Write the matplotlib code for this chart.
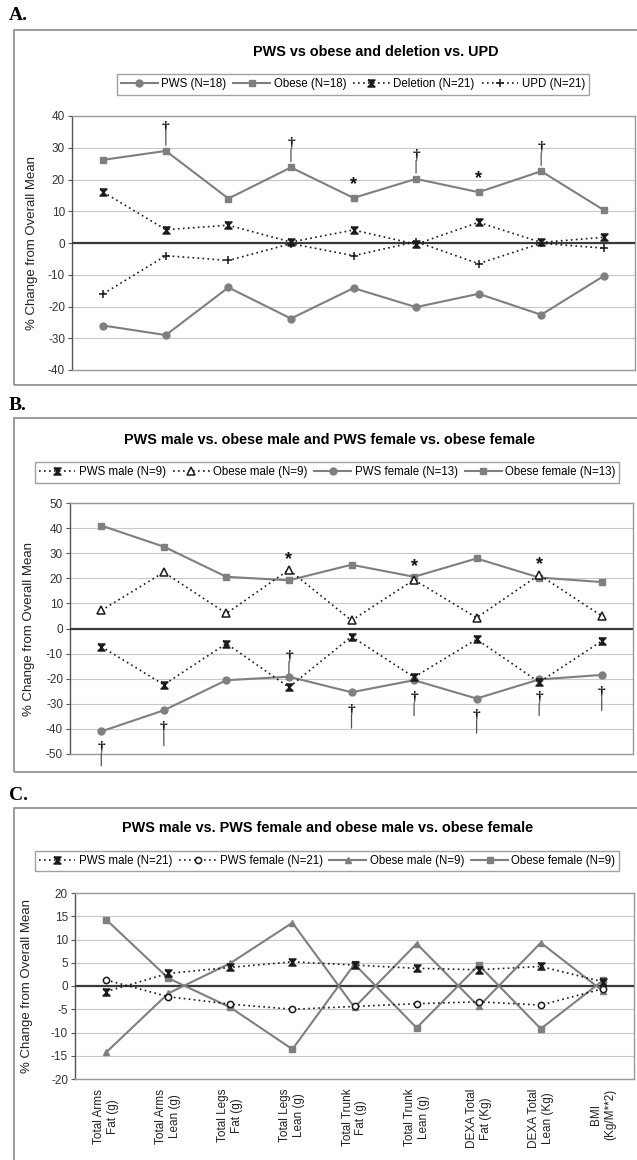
import matplotlib
matplotlib.use("Agg")
import matplotlib.pyplot as plt
from matplotlib.patches import Rectangle

plt.rcParams['font.family'] = ['Liberation Sans', 'DejaVu Sans']
plt.rcParams['axes.unicode_minus'] = False

# ---- data -------------------------------------------------------------
categories = ["Total Arms\nFat (g)", "Total Arms\nLean (g)", "Total Legs\nFat (g)",
              "Total Legs\nLean (g)", "Total Trunk\nFat (g)", "Total Trunk\nLean (g)",
              "DEXA Total\nFat (Kg)", "DEXA Total\nLean (Kg)", "BMI\n(Kg/M**2)"]

# panel A
a_pws = [-26.0, -29.0, -14.0, -23.8, -14.2, -20.2, -16.0, -22.6, -10.4]
a_obese = [26.2, 29.0, 14.0, 23.8, 14.2, 20.2, 16.0, 22.6, 10.4]
a_deletion = [16.0, 4.2, 5.6, 0.3, 4.1, -0.4, 6.5, 0.2, 1.8]
a_upd = [-16.0, -4.0, -5.5, -0.2, -4.0, 0.4, -6.5, -0.1, -1.6]
a_dagger_idx = [1, 3, 5, 7]
a_star_idx = [4, 6]

# panel B
b_pws_male = [-7.2, -22.4, -6.0, -23.4, -3.2, -19.4, -4.3, -21.4, -5.0]
b_obese_male = [7.2, 22.4, 6.0, 23.4, 3.2, 19.4, 4.3, 21.4, 5.0]
b_pws_female = [-41.0, -32.6, -20.6, -19.2, -25.4, -20.6, -27.9, -20.3, -18.5]
b_obese_female = [41.0, 32.6, 20.6, 19.2, 25.4, 20.6, 27.9, 20.3, 18.5]
b_star_idx = [3, 5, 7]
b_dagger_idx = [0, 1, 3, 4, 5, 6, 7, 8]
b_dagger_y = [-47.5, -39.5, -11.0, -32.5, -27.5, -34.5, -27.5, -25.5]

# panel C
c_pws_male = [-1.2, 2.7, 4.0, 5.2, 4.5, 3.8, 3.5, 4.2, 0.9]
c_pws_female = [1.3, -2.3, -3.9, -5.0, -4.4, -3.8, -3.4, -4.1, -0.6]
c_obese_male = [-14.3, -1.6, 4.9, 13.6, -4.6, 9.1, -4.4, 9.3, -1.1]
c_obese_female = [14.3, 1.7, -4.6, -13.6, 4.7, -9.0, 4.5, -9.2, 1.2]

W, H = 637, 1160
GRAY = "#7f7f7f"
DARK = "#1a1a1a"
XMARK = [(-1, 1), (1, 1), (-1, -1), (1, -1), (-1, 1)]  # hourglass-like star marker


def fx(x):
    return x / W


def fy(y):
    return 1 - y / H


def solid(ax, vals, marker, label):
    ax.plot(range(len(vals)), vals, color=GRAY, lw=1.5, marker=marker, ms=5,
            mfc=GRAY, mec=GRAY, label=label, zorder=4)


def dotted(ax, vals, marker, label, mfc=DARK, ms=5.5):
    ax.plot(range(len(vals)), vals, color=DARK, lw=1.2, ls=(0, (1, 2)), marker=marker,
            ms=ms, mfc=mfc, mec=DARK, mew=1.1, label=label, zorder=5)


def style_axes(ax, ylim, step, labelx):
    ax.set_xlim(-0.5, 8.5)
    ax.set_ylim(*ylim)
    ax.set_yticks(range(ylim[0], ylim[1] + 1, step))
    ax.yaxis.grid(True, color="#c8c8c8", lw=0.8)
    ax.set_axisbelow(True)
    ax.axhline(0, color="#3a3a3a", lw=1.6, zorder=3)
    for s in ax.spines.values():
        s.set_color("#9a9a9a")
        s.set_linewidth(1.0)
    ax.spines['left'].set_color("#555555")
    ax.tick_params(axis='y', direction='out', length=3, color="#555555",
                   labelsize=8.5, labelcolor="#333333", pad=2)
    ax.tick_params(axis='x', length=0)
    ax.set_ylabel("% Change from Overall Mean", fontsize=9.5, color="#222222")
    ax.yaxis.set_label_coords(labelx, 0.5)


def dagger_with_stem(ax, x, y):
    ax.text(x, y, "\u2020", ha='center', va='center', fontsize=11,
            family='Liberation Serif', fontweight='bold', color="#111111", zorder=6)
    ax.annotate("", xy=(x, y), xycoords='data',
                xytext=(0, -13), textcoords='offset points',
                arrowprops=dict(arrowstyle='-', color="#555555", lw=0.9,
                                shrinkA=0, shrinkB=4))


def star(ax, x, y):
    ax.text(x, y, "*", ha='center', va='center', fontsize=13, fontweight='bold',
            color="#111111", zorder=6)


def legend(handles, labels, cx, cy):
    fig.legend(handles, labels, loc='center', bbox_to_anchor=(fx(cx), fy(cy)), ncol=4,
               fontsize=8.3, frameon=True, fancybox=False, edgecolor="#8a8a8a",
               handlelength=3.2, handletextpad=0.3, columnspacing=0.6, borderpad=0.35)


fig = plt.figure(figsize=(W / 100, H / 100), dpi=100)

# outer boxes and panel letters
for top, bottom, letter, ly in [(30, 385, "A.", 15), (418, 772, "B.", 405), (808, 1170, "C.", 795)]:
    fig.patches.append(Rectangle((fx(14), fy(bottom)), fx(640 - 14), (bottom - top) / H,
                                 transform=fig.transFigure, fill=False,
                                 ec="#8a8a8a", lw=1.2))
    fig.text(fx(9), fy(ly), letter, fontsize=14, fontweight='bold',
             family='Liberation Serif', va='center', ha='left')

# ---- panel A ----------------------------------------------------------
axA = fig.add_axes([fx(72), fy(370), fx(635 - 72), (370 - 116) / H])
solid(axA, a_pws, 'o', "PWS (N=18)")
solid(axA, a_obese, 's', "Obese (N=18)")
dotted(axA, a_deletion, XMARK, "Deletion (N=21)", ms=5)
dotted(axA, a_upd, '+', "UPD (N=21)")
style_axes(axA, (-40, 40), 10, -0.06)
axA.set_xticks([])
for i in a_dagger_idx:
    dagger_with_stem(axA, i, a_obese[i] + 7.5)
for i in a_star_idx:
    star(axA, i, a_obese[i] + 4.3)
fig.text(fx(376), fy(52), "PWS vs obese and deletion vs. UPD", ha='center', va='center',
         fontsize=10.4, fontweight='bold')
hA, lA = axA.get_legend_handles_labels()
legend(hA, lA, 353, 84.5)

# ---- panel B ----------------------------------------------------------
axB = fig.add_axes([fx(70), fy(754), fx(633 - 70), (754 - 503) / H])
dotted(axB, b_pws_male, XMARK, "PWS male (N=9)", ms=5)
dotted(axB, b_obese_male, '^', "Obese male (N=9)", mfc='white', ms=5.5)
solid(axB, b_pws_female, 'o', "PWS female (N=13)")
solid(axB, b_obese_female, 's', "Obese female (N=13)")
style_axes(axB, (-50, 50), 10, -0.062)
axB.set_xticks([])
for i in b_star_idx:
    star(axB, i, max(b_obese_male[i], b_obese_female[i]) + 4.0)
for i, y in zip(b_dagger_idx, b_dagger_y):
    dagger_with_stem(axB, i, y)
fig.text(fx(330), fy(440), "PWS male vs. obese male and PWS female vs. obese female",
         ha='center', va='center', fontsize=10.4, fontweight='bold')
hB, lB = axB.get_legend_handles_labels()
legend(hB, lB, 327, 472.5)

# ---- panel C ----------------------------------------------------------
axC = fig.add_axes([fx(75), fy(1079), fx(634 - 75), (1079 - 893) / H])
dotted(axC, c_pws_male, XMARK, "PWS male (N=21)", ms=5)
dotted(axC, c_pws_female, 'o', "PWS female (N=21)", mfc='white', ms=4.5)
solid(axC, c_obese_male, '^', "Obese male (N=9)")
solid(axC, c_obese_female, 's', "Obese female (N=9)")
style_axes(axC, (-20, 20), 5, -0.075)
axC.set_xticks(range(len(categories)))
axC.set_xticklabels(categories, rotation=90, fontsize=8.5, color="#222222",
                    multialignment='center', va='top', ha='center')
axC.tick_params(axis='x', pad=7)
fig.text(fx(328), fy(828), "PWS male vs. PWS female and obese male vs. obese female",
         ha='center', va='center', fontsize=10.4, fontweight='bold')
hC, lC = axC.get_legend_handles_labels()
legend(hC, lC, 327, 861)

fig.savefig("out.png", dpi=100, facecolor='white')
